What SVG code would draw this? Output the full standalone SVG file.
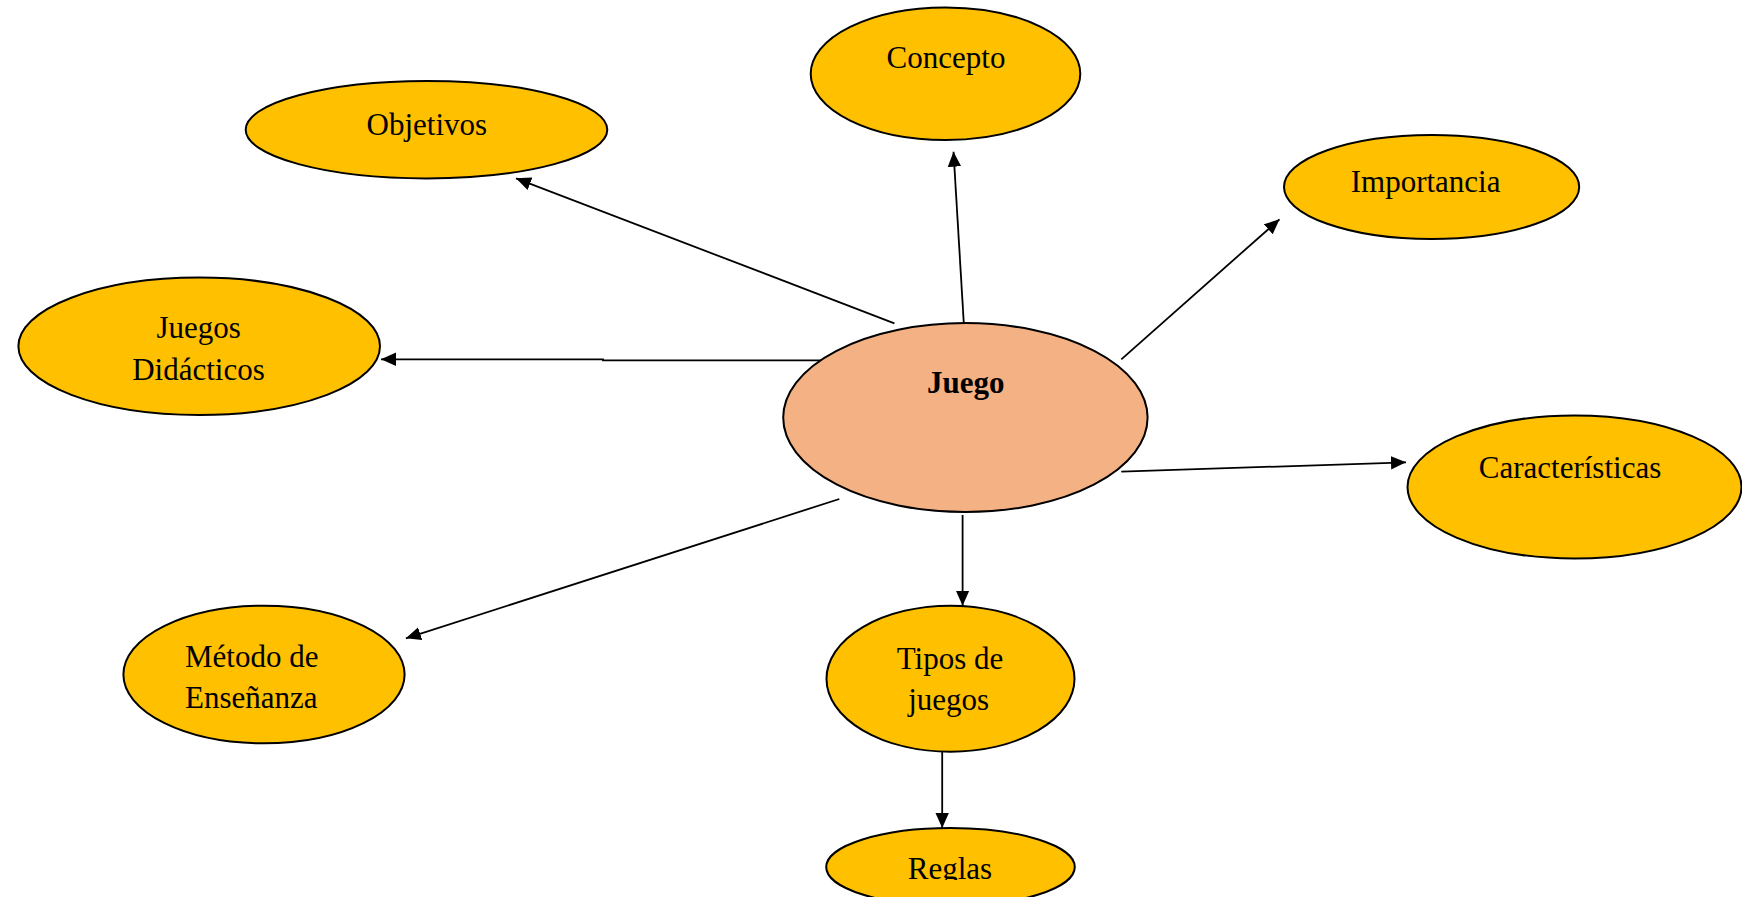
<svg xmlns="http://www.w3.org/2000/svg" width="1742" height="897" viewBox="0 0 1742 897">
<style>
.node{fill:#FFC000;stroke:#000;stroke-width:2}
.hub{fill:#F4B183;stroke:#000;stroke-width:2}
.t{font-family:"Liberation Serif","Times New Roman",serif;font-size:31px;fill:#000;text-anchor:middle}
.b{font-weight:bold}
.c{fill:none;stroke:#000;stroke-width:1.8}
</style>
<defs>
<marker id="ah" markerUnits="userSpaceOnUse" markerWidth="16" markerHeight="14" viewBox="0 0 16 14" refX="15" refY="7" orient="auto">
<path d="M0,0.3 L15,7 L0,13.7 z" fill="#000"/>
</marker>
<clipPath id="clipReglas"><rect x="820" y="820" width="260" height="60"/></clipPath>
</defs>
<rect width="1742" height="897" fill="#fff"/>
<g id="connectors">
<line class="c" x1="894.4" y1="323.3" x2="516" y2="178.3" marker-end="url(#ah)"/>
<line class="c" x1="963.8" y1="323.3" x2="953.5" y2="151.7" marker-end="url(#ah)"/>
<line class="c" x1="1121.3" y1="359.3" x2="1279.5" y2="219.3" marker-end="url(#ah)"/>
<polyline class="c" points="826.7,360.3 603,360.3 603,359.3 381,359.3" marker-end="url(#ah)"/>
<line class="c" x1="1121.3" y1="471.7" x2="1406" y2="462.3" marker-end="url(#ah)"/>
<line class="c" x1="839.3" y1="499" x2="405.9" y2="638.3" marker-end="url(#ah)"/>
<line class="c" x1="962.6" y1="515" x2="962.6" y2="605.7" marker-end="url(#ah)"/>
<line class="c" x1="942.2" y1="751.7" x2="942.2" y2="828" marker-end="url(#ah)"/>
</g>
<g id="objetivos">
<ellipse class="node" cx="426.5" cy="129.7" rx="180.8" ry="48.7"/>
<text class="t" x="426.8" y="135">Objetivos</text>
</g>
<g id="concepto">
<ellipse class="node" cx="945.5" cy="73.7" rx="134.8" ry="66.3"/>
<text class="t" x="946" y="68.3">Concepto</text>
</g>
<g id="importancia">
<ellipse class="node" cx="1431.6" cy="187" rx="147.6" ry="52"/>
<text class="t" x="1425.6" y="191.7">Importancia</text>
</g>
<g id="juegos-didacticos">
<ellipse class="node" cx="199.2" cy="346.3" rx="180.8" ry="68.7"/>
<text class="t" x="198.7" y="338.3">Juegos</text>
<text class="t" x="198.5" y="380">Didácticos</text>
</g>
<g id="juego">
<ellipse class="hub" cx="965.4" cy="417.6" rx="182.2" ry="94.5"/>
<text class="t b" x="965.8" y="393.3">Juego</text>
</g>
<g id="caracteristicas">
<ellipse class="node" cx="1574.5" cy="487" rx="167" ry="71.5"/>
<text class="t" x="1570" y="478.3">Características</text>
</g>
<g id="metodo">
<ellipse class="node" cx="264" cy="674.5" rx="140.6" ry="68.8"/>
<text class="t" x="185" y="667.3" text-anchor="start" style="text-anchor:start">Método de</text>
<text class="t" x="185" y="708.3" style="text-anchor:start">Enseñanza</text>
</g>
<g id="tipos">
<ellipse class="node" cx="950.5" cy="678.7" rx="124" ry="73"/>
<text class="t" x="950" y="669">Tipos de</text>
<text class="t" x="948.7" y="710">juegos</text>
</g>
<g id="reglas">
<ellipse class="node" cx="950.5" cy="867" rx="124.3" ry="39"/>
<text class="t" x="950" y="879" clip-path="url(#clipReglas)">Reglas</text>
</g>
</svg>
